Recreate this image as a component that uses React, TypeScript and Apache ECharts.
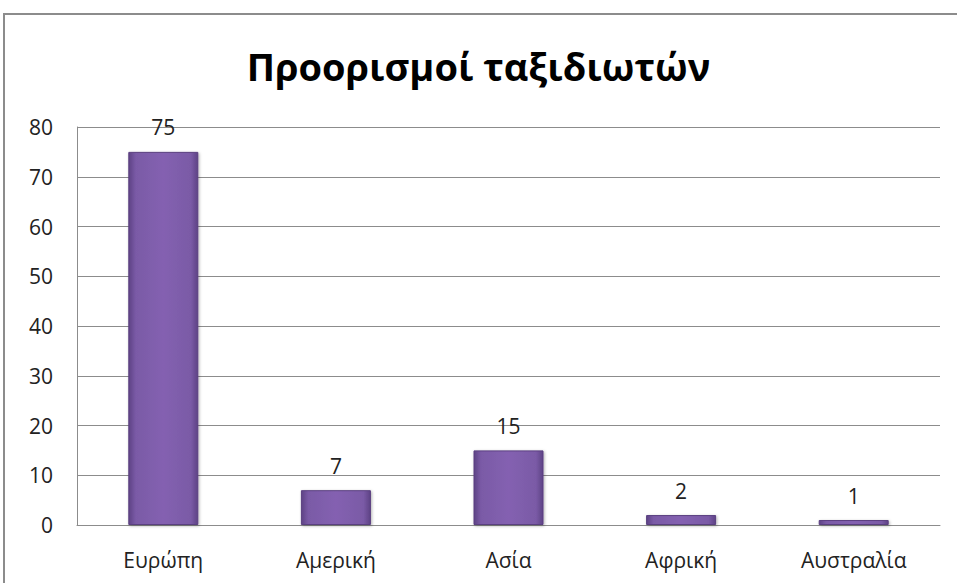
import React, { useEffect, useRef } from "react";
import * as echarts from "echarts";

const categories = ["Ευρώπη", "Αμερική", "Ασία", "Αφρική", "Αυστραλία"];
const values = [75, 7, 15, 2, 1];
const titleText = "Προορισμοί ταξιδιωτών";

export default function App() {
  const ref = useRef<HTMLDivElement>(null);
  useEffect(() => {
    if (!ref.current) return;
    const chart = echarts.init(ref.current, null, { renderer: "svg" });
    const font = "'Open Sans', 'Noto Sans', sans-serif";
    chart.setOption({
      animation: false,
      backgroundColor: "#ffffff",
      title: {
        text: titleText,
        left: "center",
        top: 42,
        textStyle: { fontSize: 38, fontWeight: "bold", color: "#000", fontFamily: font },
      },
      graphic: [
        {
          type: "polyline",
          shape: { points: [[4, 583], [4, 14], [957, 14]] },
          style: { stroke: "#8c8c8c", lineWidth: 2, fill: "none" },
          silent: true,
        },
      ],
      grid: { left: 77, right: 17, top: 127, bottom: 58, containLabel: false },
      xAxis: {
        type: "category",
        data: categories,
        axisLine: { show: true, lineStyle: { color: "#8c8c8c", width: 1 } },
        axisTick: { show: false },
        axisLabel: { color: "#222", fontSize: 21, fontFamily: font, margin: 24 },
      },
      yAxis: {
        type: "value",
        min: 0,
        max: 80,
        interval: 10,
        axisLine: { show: true, lineStyle: { color: "#8c8c8c", width: 1 } },
        axisTick: { show: false },
        splitLine: { lineStyle: { color: "#8c8c8c", width: 1 } },
        axisLabel: { color: "#222", fontSize: 21, fontFamily: font, margin: 24 },
      },
      series: [
        {
          type: "bar",
          data: values,
          barWidth: 70,
          itemStyle: {
            color: new echarts.graphic.LinearGradient(0, 0, 1, 0, [
              { offset: 0, color: "#5e4385" },
              { offset: 0.1, color: "#7a5aa6" },
              { offset: 0.5, color: "#8461b1" },
              { offset: 0.9, color: "#7a5aa6" },
              { offset: 1, color: "#5e4385" },
            ]),
            borderColor: "#5a3f80",
            borderWidth: 1,
            shadowColor: "rgba(0,0,0,0.3)",
            shadowBlur: 3,
            shadowOffsetX: 1,
            shadowOffsetY: 1,
          },
          label: {
            show: true,
            position: "top",
            distance: 14,
            color: "#222",
            fontSize: 21,
            fontFamily: font,
          },
        },
      ],
    });
    return () => chart.dispose();
  }, []);
  return (
    <div
      ref={ref}
      style={{ position: "fixed", left: 0, top: 0, width: 957, height: 583 }}
    />
  );
}
